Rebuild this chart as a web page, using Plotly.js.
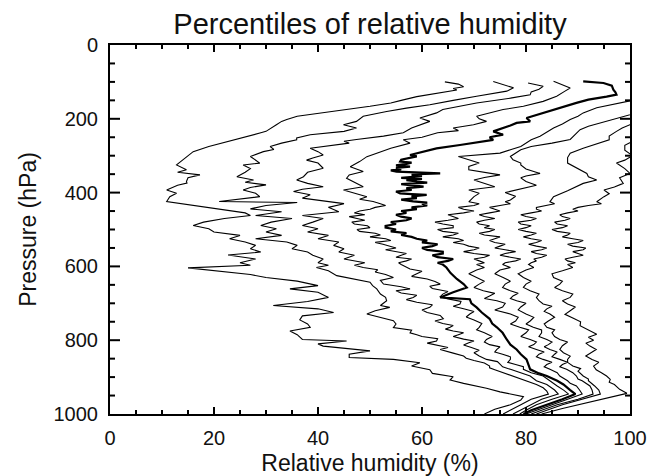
<!DOCTYPE html>
<html>
<head>
<meta charset="utf-8">
<script src="https://cdn.plot.ly/plotly-3.0.1.min.js"></script>
<style>html,body{margin:0;padding:0;background:#fff;}#chart{width:652px;height:476px;}</style>
</head>
<body>
<div id="chart"></div>
<script>
// Percentile curves: pressure (hPa) and relative humidity (%)
var p10 = [100,106,113,118,122,130,140,150,157,166,175,184,193,202,207,216,225,234,238,245,252,257,261,266,275,289,300,310,325,338,345,352,360,370,374,380,393,402,411,424,434,445,455,462,470,480,489,498,507,516,525,534,543,552,561,569,580,590,597,604,612,622,630,640,652,661,670,684,695,706,715,725,734,745,756,765,775,785,798,802,810,816,829,838,847,852,861,870,880,890,899,908,917,930,940,953,962,975,987,1000];
var rh10 = [64.4,67,68,66,66.7,63,59,56,54,50,45,40,36,34,33,32,31,30,29,27,25,23.7,22.4,21,19,16,15,14,12.8,14.7,13,17.3,15,14.7,14.8,13,10.9,12.8,11.5,10.9,16,21,26,27,22,18,16,19,20,25,23,26,28,27,29,22.7,28,25,27,15,20.5,27,30,36,40,34.6,40,42,38,31.4,40,43,37,36.5,38,38.5,34.6,36,37,45.5,40,41,50,46,46,54.5,59.6,58,61.5,62,66,65.4,68,72.4,75,79.5,79,77,74,72];

var p20 = [99,108,116,125,132,139,150,162,171,180,193,207,216,225,234,243,252,257,266,275,283,289,302,311,320,325,335,345,357,366,372,379,386,393,402,411,418,424,427,435,444,452,462,470,480,489,498,507,516,525,534,543,552,561,570,580,590,597,603,612,625,635,643,652,661,675,684,693,706,711,720,729,738,747,756,766,773,780,785,790,796,802,808,815,820,825,830,835,843,849,855,862,870,875,880,888,900,911,920,929,938,946,960,975,990,1000];
var rh20 = [73.7,76,77.6,76.3,73,70.5,66,61.5,57,53.2,48.7,47.4,44.9,47.4,45,38.5,35.9,35.9,33,30.8,31.5,29.5,27,28,28.8,25.6,27,26,24.4,27.6,26,30,27,25.6,28,28.8,25,21,36,30,27,33,28,35,31,29,32,30,33,28,34,36,35,38,39,41,40,42,39.7,42,43.6,47,50,50.5,51.3,52,53,53.2,52,53.8,51,49.4,52,54.5,55,54.5,58,57.7,59,60,63,62.8,61,63,65,63.5,65,66,68,68.5,70,72,73,73,74,75.6,78,80,82,83.3,84,84.3,81,79,77,75.6];

var p30 = [103,108,112,120,127,135,144,157,166,175,184,191,198,207,216,225,238,247,256,261,266,275,280,289,298,306,312,320,334,345,357,366,375,384,391,397,406,415,424,430,440,452,462,470,480,489,498,507,516,525,534,543,552,561,570,580,590,597,603,609,615,622,630,638,648,655,661,666,672,678,684,690,697,704,711,718,725,733,742,748,755,760,765,770,775,780,785,790,797,802,807,813,820,827,834,843,852,858,865,872,879,888,897,910,920,935,946,960,975,990,1000];
var rh30 = [80.4,82,83.3,82.5,81,80.8,77,70.5,67,64,62.8,61,59.6,61.5,59.6,58,56.4,52.6,47.4,45,46,41,38.5,40,41,39,37.8,40,41,38,37.2,35.9,38,41,37,35.3,38.5,37,42,45,42,44,37,41,39,37,40,38,42,40,44,43,45,44,47,45,49,47,48.7,51.5,51,53,54.5,52,52.6,56,57.7,55,56,59,58.3,57,59,62,61.5,60,61,63.5,64.1,62.5,64,66,65.4,64.5,66,68,67,66,68,70,69,68,69.5,71,70,71,72.4,74.5,75,75.5,77,79,80.8,82,84,85.5,86.2,83,81,79,77.5];

var p40 = [98.5,107,116.5,125,139,152.7,166,175,184,193,200,207,216,225,232,238,250,257,266,280,293.6,302.6,316,329.7,343,352,361,372,384,393,402,411,418,424,430,435,440,445,450,455,460,465,470,475,480,485,490,495,500,505,510,515,520,525,530,535,540,545,550,555,560,565,570,575,580,585,590,595,607,613,620,627,634,641,648,654,660,668,675,682,688,695,702,708,715,722,729,737,745,755,765,772,780,790,798,805,812,818,825,832,838,845,852,860,866,872,879,888,897,910,924,936,946,960,975,990,1000];
var rh40 = [85.3,87,88.5,87.5,85.9,83.3,79.5,75.6,73,70.5,71,72.4,69.9,66,67,63,60,56.4,57.7,54,51.3,49.4,48,46.2,48.7,46,45.5,47,48.7,44.9,47,49.4,48,50.6,52,53,51,50,48,47,49,46,47.5,49,46.5,47,49.5,50,47.5,48,51,52,50,53,54,51,52.5,54,55,53,55,57,56,55,58,57,55.5,56,57.7,60,59,58,61,62.5,63.5,61.5,62,65,64,63.5,65,67.5,67.3,66,68,70,69.2,68.5,70,71.5,71,70.5,72,73.5,72.4,72,73,75,74.4,74,75.5,77,77,76.5,78,79.5,79.5,81,83.3,84.5,86,87.3,88.2,85,82,80,78.8];

var p50 = [98.5,103,110,121,128,134.6,140,148,157,166,175,189,198,207,211,218,225,234,243,250,257,264,271,280,289,298,302,307,311,316,319,322,326,329.7,333,337,340,343,345,347.8,350,352,355,357,360,363,366,370,373,377,380,384,388,393,397,402,404,406,410,415,419,424,427,430,435,440,445,450,455,460,465,470,475,480,485,490,495,500,505,510,515,520,525,530,535,540,545,550,555,560,565,570,575,580,585,590,595,603,618,634,648,657,670,684,689,700,711,725,742,755,765,780,798,812,825,838,852,866,879,890,897,910,920,935,946,960,975,990,1000];
var rh50 = [91,94.9,96.5,96.8,97.2,97.4,95.5,92,89.7,87.5,85.3,82,80.1,80.8,78.2,77,75.6,73.7,75.6,73,73.7,70,67.3,62.8,60,57.7,59,57,56,55.8,58,57,55,57.7,55,56,54,55.1,58,63.5,59,58,60,57.7,56,60,57,59,61,56,58,60.3,57,58,55,55.8,58,60.9,58,59,56,58.3,61,60,61,58,59,56,57,55,56,58,57,54,55,53,53,55,54,57,56,58,59,61,60,63,62,60,61,64,64,62,63,66,65,63,64,64.7,65.5,66.7,68,68.6,66,63.5,69.2,69.5,70.5,71.5,73,73.5,74.4,75.5,76.3,77,78.2,79,80.1,80.5,80.8,82.5,84,86,87.2,88.5,89.5,87,84,81,79.5];

var p60 = [100,130,150,160,170,184,193,202,214,225,236,247,257,266,275,284,293,302,311,320,329,338,352,359,366,375,384,393,402,411,425,430,435,440,445,450,455,460,465,470,475,480,485,490,495,500,505,510,515,520,525,530,535,540,545,550,555,560,565,570,575,580,585,590,595,603,610,620,630,640,648,657,666,673,680,687,693,700,710,718,729,738,748,756,765,772,780,790,798,805,812,818,825,832,838,845,852,860,866,872,879,888,897,905,910,917,924,935,946,960,975,990,1000];
var rh60 = [112,106,100.5,97,93.6,91,90,88.5,87,85.3,84,82.7,81,80,79,77,75,67,69,71,69,69,75,72,70,72,74,69,71,70,69,71,70,67,68,70,68,65,66,67,65,62.5,64,66,66,63,64,67,66,64,67,68,66,68,69,71,70,68,70,73,72,70,71,72,70.5,72,70.5,69,70.5,72,71,70,71.8,74,73,72,74.4,76,75.5,74,77,78.5,78,77,78.8,80.5,80,79,80.8,82,81.5,80.5,82,83.5,82.5,82,83.3,85,84,83.5,84.6,86,86.5,87.5,88,88.5,89.7,90.3,90.8,88,85,82,80];

var p70 = [100,150,189,200,211,220,229.5,243,256,266,275,284,293,302,311,320,325,336,348,355,360,370,380,390,400,410,420,425,430,435,440,445,450,455,460,465,470,475,480,485,490,495,500,505,510,515,520,525,530,535,540,545,550,555,560,565,570,575,580,585,590,595,603,610,620,630,640,648,657,666,673,680,687,693,700,710,718,729,738,748,756,765,772,780,790,798,805,812,818,825,832,838,845,852,860,866,872,879,888,897,905,910,917,924,935,946,960,975,990,1000];
var rh70 = [120,108,100,97,94.2,92,90.4,89.5,88.5,85,81,79,78,77,77.5,79,79,80,82.7,80,79,80,82,79,76,78,77,76,77,75,73,74,75,73,71,72,74,72,70.5,71,73,72,74,73,71,72,75,74,73,74,76,75,74,76,78,76,75,77,79,78,76,75.5,77,75,74,75.6,77,76,75.5,77,78.5,77.5,77,78.2,80,79,78.5,80,81.5,80.8,80,81.4,83,83,82.5,84,85,84.3,83.5,84.6,86,85.5,85,86.5,88,87,86.5,87.8,89,89.7,90,90.8,91.5,92.3,92.7,92.9,90,86,83,81];

var p80 = [100,170,216,225,234,247,257,266,280,293,305,320,335,348,357,366,375,384,395,411,425,430,435,440,445,450,455,460,465,470,475,480,485,490,495,500,505,510,515,520,525,530,535,540,545,550,555,560,565,570,575,580,585,590,595,603,610,620,630,640,648,657,666,675,684,693,702,708,715,722,729,738,748,756,765,772,780,790,798,805,815,825,834,843,852,860,870,877,884,890,897,905,910,924,935,946,960,975,990,1000];
var rh80 = [128,108,100,98.5,97.4,96,96,94,91,88.5,88,88,90,91.7,92,93.6,91,89.7,88,85.3,84.6,85.5,84,82,82,83,81,79,80,82,81,78.5,79,81,80,78.5,80,82,81,79.5,81,83,82,80.5,82,84,83,81,82,84,83,81.5,82,81,80.5,81.5,80,78.5,79.5,81,80,79.5,80.8,82.5,82,82.5,83.3,85,84,83.5,84.6,85.5,84.3,83.5,84,85.5,85,85.5,86.5,88,87,86.5,87.2,88.5,88,88,89,90.5,90,90.5,91,92,92,93.2,94,94.3,91,87,84,82];

var p90 = [100,200,250,262,272,285,300,312,320,335,348,360,375,385,393,403,411,425,430,435,440,445,450,455,460,465,470,475,480,485,490,495,500,505,510,515,520,525,530,535,540,545,550,555,560,565,570,575,580,585,590,595,603,612,620,630,640,648,657,666,675,684,693,702,710,720,730,740,750,761,772,784,792,800,808,816,825,835,843,852,860,870,880,888,897,906,914,920,927,933,944,955,970,985,1000];
var rh90 = [135,110,102,100.5,99,99,100.5,99,97.4,99,100,98,98.7,97,95,96,95,93.6,94.5,92,90,89,90,88,86.5,87,88.5,87.5,85.5,86,88,87,85,86,88.5,88,87,89,91,90,88,89,91.5,91,89,90,91,89,87.5,88,89.5,88,89,87,85,85.3,87,86.5,85.5,87,89,88.5,87,88,89.5,88.5,87.5,89,90.5,90.4,92,93.6,92,93,91.5,92.3,93.5,92.5,91.5,92.7,94,93,93.5,94.5,95.5,96.2,96,97,97.5,98,99.4,96,91,87,83];

var seriesNames = ['10%','20%','30%','40%','50%','60%','70%','80%','90%'];
var pressures = [p10,p20,p30,p40,p50,p60,p70,p80,p90];
var humidities = [rh10,rh20,rh30,rh40,rh50,rh60,rh70,rh80,rh90];

// tick positions of the boxed frame
var xMajorTicks = [20, 40, 60, 80];
var xMinorTicks = [5, 10, 15, 25, 30, 35, 45, 50, 55, 65, 70, 75, 85, 90, 95];
var yMajorTicks = [200, 400, 600, 800];
var yMinorTicks = [50, 100, 150, 250, 300, 350, 450, 500, 550, 650, 700, 750, 850, 900, 950];

var FONT = 'Liberation Sans, Arial, sans-serif';
var X_RANGE = [0, 100], Y_RANGE = [1000, 0];
var PLOT_W = 652 - 110 - 22, PLOT_H = 476 - 45 - 62;
var pxPerX = PLOT_W / (X_RANGE[1] - X_RANGE[0]);
var pxPerY = PLOT_H / (Y_RANGE[0] - Y_RANGE[1]);

var traces = seriesNames.map(function(name, i){
  return {
    type: 'scatter', mode: 'lines', name: name,
    x: humidities[i], y: pressures[i],
    line: {color: '#000', width: name === '50%' ? 2.2 : 1.1},
    hoverinfo: 'skip'
  };
});

// inward tick marks on all four sides, lengths given in pixels and converted to data units
var shapes = [];
function tickLine(x0, y0, x1, y1) {
  return {type: 'line', xref: 'x', yref: 'y', x0: x0, y0: y0, x1: x1, y1: y1, layer: 'above',
          line: {color: '#000', width: 2}};
}
function addXTicks(vals, lenPx) {
  var d = lenPx / pxPerY;
  vals.forEach(function(v){
    shapes.push(tickLine(v, Y_RANGE[0], v, Y_RANGE[0] - d));
    shapes.push(tickLine(v, Y_RANGE[1], v, Y_RANGE[1] + d));
  });
}
function addYTicks(vals, lenPx) {
  var d = lenPx / pxPerX;
  vals.forEach(function(v){
    shapes.push(tickLine(X_RANGE[0], v, X_RANGE[0] + d, v));
    shapes.push(tickLine(X_RANGE[1], v, X_RANGE[1] - d, v));
  });
}
addXTicks(xMajorTicks, 7); addXTicks(xMinorTicks, 4);
addYTicks(yMajorTicks, 10); addYTicks(yMinorTicks, 5);

var layout = {
  width: 652, height: 476,
  margin: {l: 110, r: 22, t: 45, b: 62},
  paper_bgcolor: '#fff', plot_bgcolor: '#fff',
  showlegend: false,
  shapes: shapes,
  title: {text: 'Percentiles of relative humidity', font: {family: FONT, size: 29, color: '#111'},
          x: 0.5, xref: 'paper', xanchor: 'center', y: 1 - 24/476, yref: 'container', yanchor: 'middle'},
  xaxis: {
    range: X_RANGE, tick0: 0, dtick: 20, ticks: '',
    mirror: true, showline: true, linecolor: '#000', linewidth: 2,
    showgrid: false, zeroline: false, ticklabelstandoff: 5,
    tickfont: {family: FONT, size: 20, color: '#111'},
    title: {text: 'Relative humidity (%)', font: {family: FONT, size: 23, color: '#111'}, standoff: 13}
  },
  yaxis: {
    range: Y_RANGE, tick0: 0, dtick: 200, ticks: '',
    mirror: true, showline: true, linecolor: '#000', linewidth: 2,
    showgrid: false, zeroline: false, ticklabelstandoff: 6,
    tickfont: {family: FONT, size: 20, color: '#111'},
    title: {text: 'Pressure (hPa)', font: {family: FONT, size: 23, color: '#111'}, standoff: 10}
  }
};

Plotly.newPlot('chart', traces, layout, {staticPlot: true, displayModeBar: false});
</script>
</body>
</html>
